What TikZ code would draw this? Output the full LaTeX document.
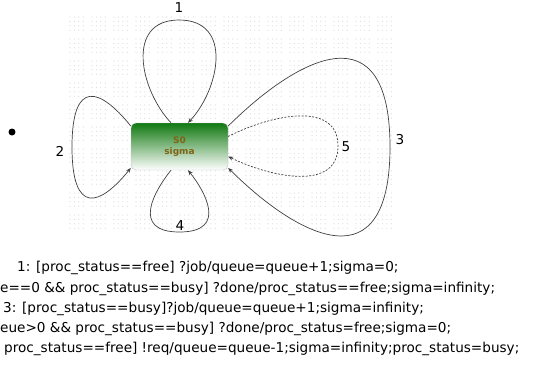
\documentclass[tikz,border=0pt]{standalone}
\usepackage{fontspec}
\setmainfont{DejaVu Sans}
\usetikzlibrary{arrows.meta}
\definecolor{stategreen}{RGB}{16,120,16}
\definecolor{statetext}{RGB}{128,100,20}
\definecolor{griddot}{RGB}{218,218,218}

\begin{document}
\begin{tikzpicture}[x=1pt, y=-1pt, >={Stealth[length=5pt,width=4pt]}]
        \tikzstyle{every node}=[font=\fontsize{13.6}{20}\selectfont, inner sep=0pt]
        \tikzstyle{state}=[draw=gray!50, rounded corners=5pt, minimum width=97pt, minimum height=47pt,
            top color=stategreen, bottom color=white, align=center, text=statetext,
            font=\fontsize{9}{11.5}\selectfont\bfseries]
        \tikzstyle{trans}=[line width=0.7pt, black!75]
        \tikzstyle{guard}=[anchor=base west]

        \useasboundingbox (0,0) rectangle (533,367);

        \foreach \bx in {0,...,14}
            \foreach \by in {0,...,9}
                \foreach \dx in {0,...,3}
                    \foreach \dy in {0,...,3}
                        \fill[griddot] (70+22*\bx+4.4*\dx, 17+22*\by+4.4*\dy) circle (0.6);

        \node   (init)  [circle, fill=black, minimum size=7pt] at (12,132) {};
        \node   (s0)    [state] at (179.5,146.5) {S0\\sigma};

        \node   (l1)    at (179,8)   {1};
        \node   (l2)    at (60,151)  {2};
        \node   (l3)    at (400,140) {3};
        \node   (l4)    at (180,226) {4};
        \node   (l5)    at (346,147) {5};

        \draw[trans, ->] ([xshift=-8.5pt]s0.north) .. controls (140,90) and (125,20) .. (179,20)
            .. controls (234,20) and (219,90) .. ([xshift=8.5pt]s0.north);
        \draw[trans, ->] ([yshift=20.5pt]s0.west) .. controls (100,88) and (72,78) .. (72,147)
            .. controls (72,216) and (100,206) .. ([yshift=-21.5pt]s0.west);
        \draw[trans, ->] ([yshift=20.5pt]s0.east) .. controls (300,55) and (390,10) .. (390,147)
            .. controls (390,284) and (300,239) .. ([yshift=-21.5pt]s0.east);
        \draw[trans, ->] ([xshift=-8.5pt]s0.south) .. controls (155,190) and (130,232) .. (179.5,232)
            .. controls (229,232) and (204,190) .. ([xshift=8.5pt]s0.south);
        \draw[trans, dash pattern=on 2pt off 1.5pt, ->] ([yshift=10pt]s0.east) .. controls (270,115) and (338,100) .. (338,146)
            .. controls (338,192) and (270,177) .. ([yshift=-10pt]s0.east);

        \node   (g1)    [guard] at (17,271)  {1: [proc\_status==free] ?job/queue=queue+1;sigma=0;};
        \node   (g2)    [guard] at (0,292)   {e==0 \&\& proc\_status==busy] ?done/proc\_status==free;sigma=infinity;};
        \node   (g3)    [guard] at (3,312)   {3: [proc\_status==busy]?job/queue=queue+1;sigma=infinity;};
        \node   (g4)    [guard] at (0,332)   {eue>0 \&\& proc\_status==busy] ?done/proc\_status=free;sigma=0;};
        \node   (g5)    [guard] at (4,352)   {proc\_status==free] !req/queue=queue-1;sigma=infinity;proc\_status=busy;};
    \end{tikzpicture}
\end{document}
